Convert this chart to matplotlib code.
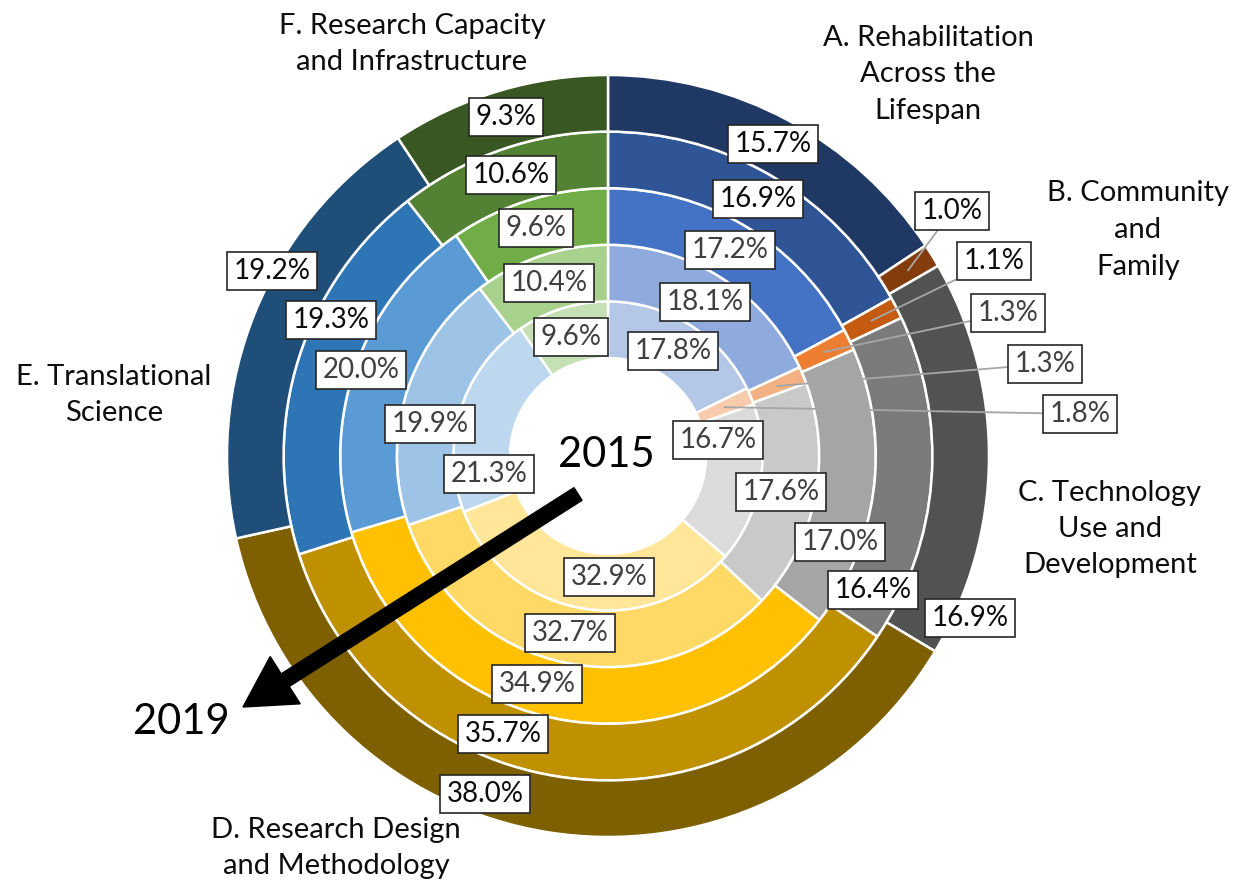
import matplotlib
matplotlib.use("Agg")
import numpy as np
import matplotlib.pyplot as plt
from matplotlib.patches import FancyArrow

plt.rcParams["font.family"] = ["Lato", "DejaVu Sans"]

# data: share of projects per category, rings go 2015 (inner) -> 2019 (outer)
years = ["2015", "2016", "2017", "2018", "2019"]
categories = [
    "A. Rehabilitation\nAcross the\nLifespan",
    "B. Community\nand\nFamily",
    "C. Technology\nUse and\nDevelopment",
    "D. Research Design\nand Methodology",
    "E. Translational\nScience",
    "F. Research Capacity\nand Infrastructure",
]
share_2015 = [17.8, 1.8, 16.7, 32.9, 21.3, 9.6]
share_2016 = [18.1, 1.3, 17.6, 32.7, 19.9, 10.4]
share_2017 = [17.2, 1.3, 17.0, 34.9, 20.0, 9.6]
share_2018 = [16.9, 1.1, 16.4, 35.7, 19.3, 10.6]
share_2019 = [15.7, 1.0, 16.9, 38.0, 19.2, 9.3]
shares = [share_2015, share_2016, share_2017, share_2018, share_2019]

# colours per category, light (2015) -> dark (2019)
shades = [
    ["#B4C7E7", "#8FAADC", "#4472C4", "#2F5597", "#203864"],
    ["#F8CBAD", "#F4B183", "#ED7D31", "#C55A11", "#843C0C"],
    ["#DBDBDB", "#C9C9C9", "#A5A5A5", "#7B7B7B", "#525252"],
    ["#FFE699", "#FFD966", "#FFC000", "#BF9000", "#7F6000"],
    ["#BDD7EE", "#9DC3E6", "#5B9BD5", "#2E75B6", "#1F4E79"],
    ["#C5E0B4", "#A9D18E", "#70AD47", "#548235", "#385723"],
]
text_colors = ["#404040", "#404040", "#404040", "#0D0D0D", "#0D0D0D"]

# layout (pixel coords, y measured from the top)
W, H = 1243, 884
label_pos = [
    [(673, 351), (1080, 414), (718, 440), (609, 577), (489, 474), (571, 337)],
    [(705, 302), (1045, 364), (781, 492), (570, 633), (430, 424), (549, 283)],
    [(730, 250), (1008, 313), (840, 542), (537, 684), (361, 370), (536, 228)],
    [(758, 199), (994, 261), (873, 590), (503, 734), (331, 320), (511, 175)],
    [(773, 144), (952, 211), (970, 618), (485, 794), (272, 271), (506, 117)],
]
cat_pos = [(928, 74), (1138, 230), (1110, 529), (336, 848), (114, 395), (412, 44)]

cx, cy = 608, H - 456
r_hole, r_out = 98, 381
ring_w = (r_out - r_hole) / len(years)

fig = plt.figure(figsize=(W / 100, H / 100), dpi=100)
ax = fig.add_axes([0, 0, 1, 1])

for i, year in enumerate(years):
    r = r_hole + ring_w * (i + 1)
    cols = [shades[c][i] for c in range(len(categories))]
    wedges, _ = ax.pie(shares[i], radius=r, center=(cx, cy), startangle=90,
                       counterclock=False, colors=cols,
                       wedgeprops=dict(width=ring_w, edgecolor="white", linewidth=1.8))
    for c, (w, v) in enumerate(zip(wedges, shares[i])):
        px, py = label_pos[i][c]
        bbox = dict(boxstyle="square,pad=0.22", fc="white", ec="#262626", lw=1.2)
        if c == 1:
            # thin slices get leader lines from the slice centre
            ang = np.deg2rad((w.theta1 + w.theta2) / 2)
            rm = r - ring_w / 2
            ax.annotate(f"{v:.1f}%", xy=(cx + rm * np.cos(ang), cy + rm * np.sin(ang)),
                        xytext=(px, H - py), ha="center", va="center",
                        fontsize=20, color=text_colors[i], bbox=bbox,
                        arrowprops=dict(arrowstyle="-", color="#A6A6A6", lw=1.3,
                                        shrinkA=0, shrinkB=0), zorder=5)
        else:
            ax.text(px, H - py, f"{v:.1f}%", ha="center", va="center",
                    fontsize=20, color=text_colors[i], bbox=bbox, zorder=5)

for name, (px, py) in zip(categories, cat_pos):
    ax.text(px, H - py, name, ha="center", va="center", fontsize=21,
            color="#0D0D0D", linespacing=1.5)

ax.text(606, H - 455, years[0], ha="center", va="center", fontsize=30, color="black")
ax.text(181, H - 722, years[-1], ha="center", va="center", fontsize=30, color="black")
x0, y0, x1, y1 = 578, H - 494, 243, H - 707
ax.add_patch(FancyArrow(x0, y0, x1 - x0, y1 - y0, width=15, head_width=56,
                        head_length=50, length_includes_head=True,
                        fc="black", ec="black", zorder=6))

ax.set_xlim(0, W)
ax.set_ylim(0, H)
ax.set_aspect("equal")
ax.axis("off")
fig.savefig("out.png", dpi=100)
